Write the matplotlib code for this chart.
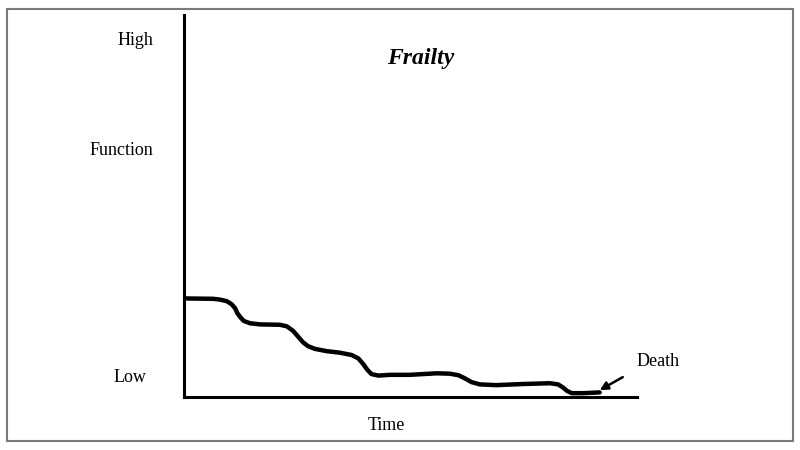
import numpy as np
import matplotlib
matplotlib.use("Agg")
import matplotlib.pyplot as plt
from matplotlib.patches import Rectangle

# Frailty trajectory: function (0 = low, 100 = high) against time (0-100)
time = [0.0, 6.4, 7.9, 9.4, 10.5, 11.3, 11.8, 12.5, 13.2, 14.6, 16.8, 21.2,
        22.7, 24.1, 25.2, 26.3, 27.4, 28.9, 31.5, 34.4, 37.0, 38.5, 39.6,
        40.5, 41.4, 42.9, 45.5, 49.9, 55.8, 58.7, 60.6, 62.0, 63.5, 65.3,
        69.0, 74.9, 80.8, 82.6, 83.7, 84.6, 85.6, 88.2, 91.8]
function = [25.8, 25.7, 25.5, 25.1, 24.3, 23.2, 21.9, 20.8, 19.9, 19.3, 19.0,
            18.9, 18.5, 17.3, 15.8, 14.3, 13.3, 12.6, 12.0, 11.6, 11.0, 10.1,
            8.6, 7.1, 6.0, 5.6, 5.8, 5.8, 6.2, 6.1, 5.7, 4.9, 3.9, 3.3, 3.1,
            3.4, 3.6, 3.3, 2.5, 1.6, 1.0, 1.0, 1.2]

death_point = (91.8, 1.8)
death_arrow_tail = (96.9, 5.2)

plt.rcParams["font.family"] = ["Liberation Serif", "DejaVu Serif"]

fig = plt.figure(figsize=(8, 4.5), dpi=100)
ax = fig.add_axes([0.23, 0.1178, 0.566, 0.849])

ax.plot(time, function, color="black", lw=3.2, solid_capstyle="round",
        solid_joinstyle="round")

ax.set_xlim(0, 100)
ax.set_ylim(0, 100)
ax.set_xticks([])
ax.set_yticks([])
for side in ["top", "right"]:
    ax.spines[side].set_visible(False)
for side in ["left", "bottom"]:
    ax.spines[side].set_linewidth(2.2)
    ax.spines[side].set_capstyle("projecting")

ax.annotate("", xy=death_point, xytext=death_arrow_tail,
            arrowprops=dict(arrowstyle="-|>", color="black", lw=1.8,
                            mutation_scale=12, shrinkA=0, shrinkB=0))

# labels
fig.text(153 / 800, 0.900, "High", ha="right", va="baseline", fontsize=13)
fig.text(153 / 800, 0.6556, "Function", ha="right", va="baseline", fontsize=13)
fig.text(130 / 800, 0.151, "Low", ha="center", va="baseline", fontsize=13)
fig.text(386 / 800, 0.0444, "Time", ha="center", va="baseline", fontsize=13)
fig.text(658 / 800, 0.1867, "Death", ha="center", va="baseline", fontsize=13)
fig.text(421 / 800, 0.858, "Frailty", ha="center", va="baseline", fontsize=17,
         fontweight="bold", fontstyle="italic")

# outer frame
fig.patches.append(Rectangle((7 / 800, 1 - 441 / 450), 786 / 800, 432 / 450,
                             transform=fig.transFigure, fill=False,
                             edgecolor="#7a7a7a", lw=1.5))

fig.savefig("out.png", dpi=100)
